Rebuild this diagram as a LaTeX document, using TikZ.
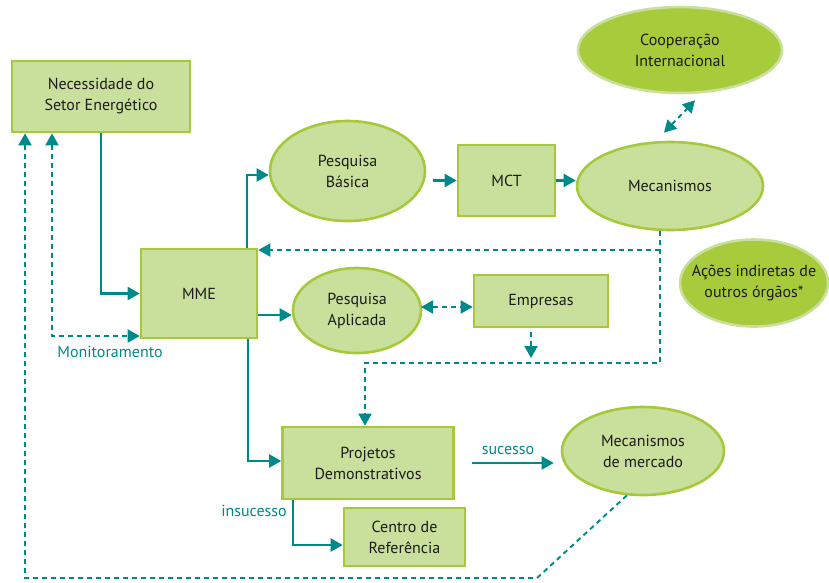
\documentclass[tikz,border=0pt]{standalone}
\usepackage{fontspec}
\setmainfont{PT Sans}
\usetikzlibrary{arrows.meta,calc,shapes.geometric}
\definecolor{lfill}{HTML}{C8E09B}
\definecolor{lborder}{HTML}{A6C93C}
\definecolor{dfill}{HTML}{A8CB3B}
\definecolor{dborder}{HTML}{C8E09B}
\definecolor{teal}{HTML}{00898A}
\definecolor{txt}{HTML}{1E1B1C}
\tikzset{
  every node/.style={font=\fontsize{16}{21}\selectfont, text=txt, align=center, inner sep=0pt},
  boxnode/.style={draw=lborder, fill=lfill, line width=2.6pt, rectangle},
  ellnode/.style={draw=lborder, fill=lfill, line width=2.6pt, ellipse},
  dellnode/.style={draw=dborder, fill=dfill, line width=2.6pt, ellipse},
  arr/.style={draw=teal, line width=2.1pt, -{Triangle[length=12pt,width=13pt]}},
  darr/.style={draw=teal, line width=1.9pt, dash pattern=on 5pt off 4pt, -{Triangle[length=12pt,width=13pt]}},
  ddarr/.style={draw=teal, line width=1.9pt, dash pattern=on 5pt off 4pt, {Triangle[length=12pt,width=13pt]}-{Triangle[length=12pt,width=13pt]}},
  lbl/.style={text=teal, font=\fontsize{16}{18}\selectfont}
}
\begin{document}
\begin{tikzpicture}[x=1pt,y=-1pt]
\useasboundingbox (0,0) rectangle (829,582);
% nodes
\node[boxnode, minimum width=178pt, minimum height=71pt] (nec) at (101,96.5) {Necessidade do\\Setor Energético};
\node[boxnode, minimum width=116pt, minimum height=89pt] (mme) at (199,293.5) {MME};
\node[ellnode, minimum width=155pt, minimum height=100pt] (pb) at (347.5,171) {Pesquisa\\Básica};
\node[boxnode, minimum width=97pt, minimum height=71pt] (mct) at (506.5,180.5) {MCT};
\node[ellnode, minimum width=186pt, minimum height=88pt] (mec) at (670,186) {Mecanismos};
\node[dellnode, minimum width=204pt, minimum height=86pt] (coop) at (680,50) {Cooperação\\Internacional};
\node[dellnode, inner xsep=-13pt, minimum width=148pt, minimum height=87pt] (acoes) at (754,283) {Ações indiretas de\\outros órgãos*};
\node[ellnode, minimum width=128pt, minimum height=85pt] (pa) at (357,310.5) {Pesquisa\\Aplicada};
\node[boxnode, minimum width=134pt, minimum height=52pt] (emp) at (541,301) {Empresas};
\node[boxnode, minimum width=171pt, minimum height=72pt] (proj) at (368,463) {Projetos\\Demonstrativos};
\node[boxnode, minimum width=121pt, minimum height=58pt] (cen) at (404.5,537) {Centro de\\Referência};
\node[ellnode, minimum width=162pt, minimum height=88pt] (mm) at (643,451) {Mecanismos\\de mercado};
% coordinates
\coordinate (m1) at (52,336);
\coordinate (l1) at (25,578);
\coordinate (l2) at (537,578);
\coordinate (b1) at (247,175);
\coordinate (c1) at (660,250);
\coordinate (c2) at (660,363);
\coordinate (c3) at (365,363);
\coordinate (e1) at (531,332);
\coordinate (e2) at (531,358);
\coordinate (p1) at (421,307);
\coordinate (d1) at (257,315);
\coordinate (q1) at (248,461);
\coordinate (r1) at (293,545);
% connectors
\draw[arr] (nec.south) |- (mme.west);
\draw[ddarr] (nec.south -| m1) -- (m1) -- (mme.west |- m1);
\draw[darr] (mm.250) -- (l2) -- (l1) -- (nec.south -| l1);
\draw[arr] (mme.north -| b1) |- (pb.west |- b1);
\draw[arr, shorten <=7pt] (pb.east |- mct.west) -- (mct.west);
\draw[arr] (mct.east) -- (mct.east -| mec.west);
\draw[ddarr] ($(mec.north)+(-6,-8)$) -- ($(coop.south)+(15,6)$);
\draw[darr] (mec.south -| c1) -- (c2) -- (c3) -- (proj.north -| c3);
\draw[darr] (c1) -- (c1 -| mme.east);
\draw[darr] (e1) -- (e2);
\draw[ddarr] (p1) -- (p1 -| emp.west);
\draw[arr] (mme.east |- d1) -- (d1 -| pa.west);
\draw[arr] (mme.south -| q1) |- (proj.west |- q1);
\draw[arr] (proj.south -| r1) |- (cen.west |- r1);
\draw[arr, shorten <=17pt, shorten >=7pt] (proj.east) -- (proj.east -| mm.west);
% labels
\node[lbl] (lmon) at (110,352) {Monitoramento};
\node[lbl] (lsuc) at (508,450) {sucesso};
\node[lbl] (lins) at (254,511) {insucesso};
\end{tikzpicture}
\end{document}
